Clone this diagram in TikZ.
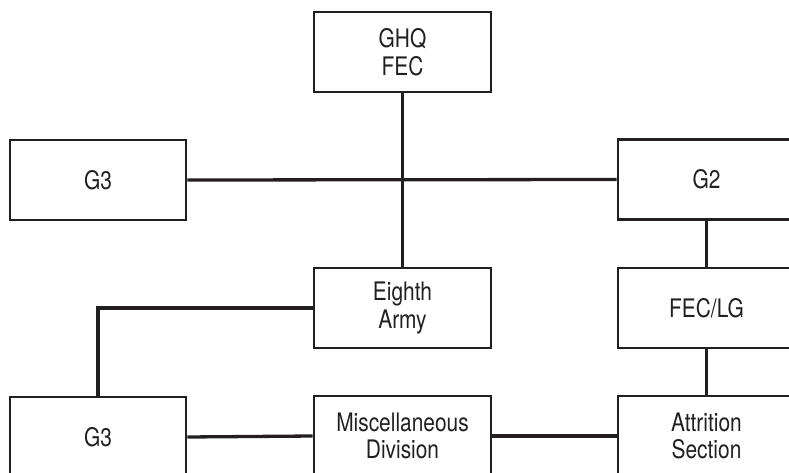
\documentclass[tikz,border=0pt]{standalone}
\usepackage{fontspec}
\setmainfont{TeX Gyre Heros}[FakeStretch=0.82]
\definecolor{ink}{HTML}{231F20}
\begin{document}
\begin{tikzpicture}[x=1pt,y=1pt,
  orgbox/.style={draw=ink, line width=2.7pt, fill=white, minimum width=177pt, minimum height=80pt,
    inner sep=0pt, align=center, text=ink, font=\fontsize{25.5}{27.7}\selectfont},
  link/.style={draw=ink, line width=3.3pt}]
\useasboundingbox (0,0) rectangle (789,-473);
\node[orgbox] (ghq)    at (402.5,-52)  {GHQ\\FEC};
\node[orgbox, minimum width=176pt] (g3a) at (98,-180) {G3};
\node[orgbox] (g2)     at (706.5,-179.5) {G2};
\node[orgbox] (eighth) at (402.5,-308) {Eighth\\Army};
\node[orgbox] (feclg)  at (706.5,-308) {FEC/LG};
\node[orgbox, minimum width=176pt] (g3b) at (98,-437) {G3};
\node[orgbox] (misc)   at (402.5,-436) {Miscellaneous\\Division};
\node[orgbox] (attr)   at (706.5,-436) {Attrition\\Section};
\draw[link] (ghq.south) -- (eighth.north);
\draw[link] (g3a.east) -- (g2.west);
\draw[link] (g2.south) -- (feclg.north);
\draw[link] (feclg.south) -- (attr.north);
\draw[link] (eighth.west) -| (g3b.north);
\draw[link] (g3b.east) -- (misc.west);
\draw[link] (misc.east) -- (attr.west);
\end{tikzpicture}
\end{document}
